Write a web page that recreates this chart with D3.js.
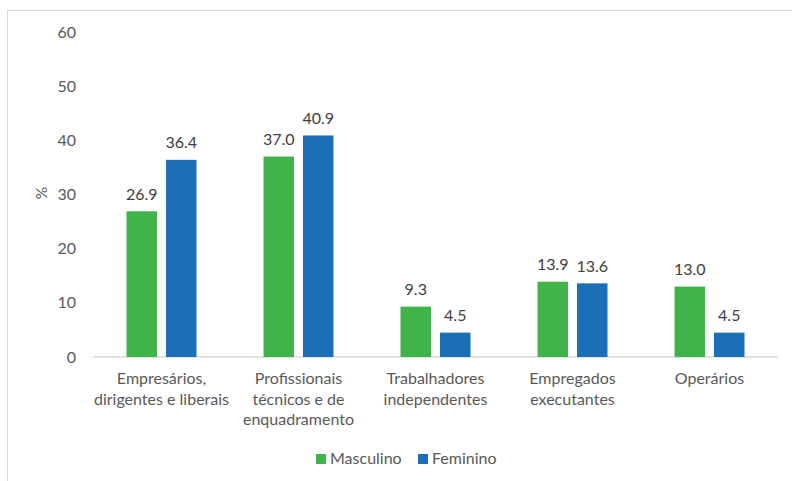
<!DOCTYPE html>
<html><head><meta charset="utf-8">
<script src="https://cdn.jsdelivr.net/npm/d3@7"></script>
<style>body{margin:0;background:#fff}svg{display:block}</style>
</head><body>
<script>
const categories = [["Empresários,","dirigentes e liberais"],["Profissionais","técnicos e de","enquadramento"],["Trabalhadores","independentes"],["Empregados","executantes"],["Operários"]];
const seriesNames = ["Masculino","Feminino"];
const masculino = [26.9, 37.0, 9.3, 13.9, 13.0];
const feminino = [36.4, 40.9, 4.5, 13.6, 4.5];
const yTicks = [0,10,20,30,40,50,60];
const colors = ["#41B34B","#1B6FB7"];

const W=792,H=481;
const font="Lato, 'Open Sans', sans-serif";
const svg=d3.select("body").append("svg").attr("width",W).attr("height",H).style("font-family",font);
svg.append("rect").attr("x",7.5).attr("y",10.5).attr("width",W).attr("height",H).attr("fill","#fff").attr("stroke","#d9d9d9");

const x0=d3.scaleBand().domain(d3.range(categories.length)).range([93,778]);
const y=d3.scaleLinear().domain([0,60]).range([357,32]);
const barW=30.5, offset=39.5;
const series=[masculino,feminino];

// y tick labels
svg.append("g").selectAll("text").data(yTicks).join("text")
  .attr("x",76).attr("y",d=>y(d)).attr("dy","0.35em").attr("text-anchor","end")
  .attr("font-size",16).attr("fill","#595959").text(d=>d);

// axis line
svg.append("line").attr("x1",x0.range()[0]).attr("x2",x0.range()[1]).attr("y1",y(0)).attr("y2",y(0)).attr("stroke","#d9d9d9").attr("stroke-width",1.5);

series.forEach((vals,si)=>{
  const g=svg.append("g");
  g.selectAll("rect").data(vals).join("rect")
    .attr("x",(d,i)=>x0(i)+x0.bandwidth()/2+(si-0.5)*offset-barW/2)
    .attr("width",barW)
    .attr("y",d=>y(d)).attr("height",d=>y(0)-y(d))
    .attr("fill",colors[si]);
  g.selectAll("text").data(vals).join("text")
    .attr("x",(d,i)=>x0(i)+x0.bandwidth()/2+(si-0.5)*offset)
    .attr("y",d=>y(d)-11.5).attr("text-anchor","middle")
    .attr("font-size",16).attr("fill","#404040").text(d=>d.toFixed(1));
});

// category labels
categories.forEach((lines,i)=>{
  const t=svg.append("text").attr("text-anchor","middle").attr("font-size",16).attr("fill","#595959");
  lines.forEach((l,j)=>t.append("tspan").attr("x",x0(i)+x0.bandwidth()/2).attr("y",384+j*20.5).text(l));
});

// y axis title
svg.append("text").attr("transform","translate(47,193) rotate(-90)").attr("text-anchor","middle")
  .attr("font-size",16).attr("fill","#595959").text("%");

// legend
const legX=[316,418];
seriesNames.forEach((n,i)=>{
  svg.append("rect").attr("x",legX[i]).attr("y",454).attr("width",10).attr("height",10).attr("fill",colors[i]);
  svg.append("text").attr("x",legX[i]+14).attr("y",464).attr("font-size",16).attr("fill","#595959").text(n);
});
</script>
</body></html>
